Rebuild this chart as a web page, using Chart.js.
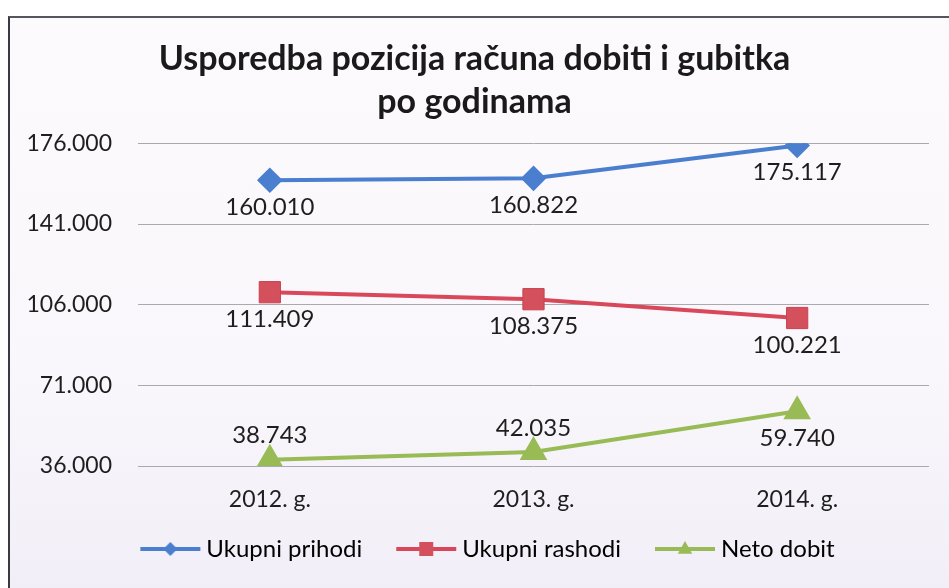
<!DOCTYPE html>
<html>
<head>
<meta charset="utf-8">
<script src="https://cdn.jsdelivr.net/npm/chart.js@4/dist/chart.umd.min.js"></script>
<style>
  html, body { margin: 0; padding: 0; background: #ffffff; }
  #frame {
    position: absolute; left: 8px; top: 16px; width: 960px; height: 600px;
    border-left: 2px solid #3a3a44; border-top: 2px solid #55555e;
    background: linear-gradient(#fcfafc 0%, #f9f7fb 60%, #f0edf7 100%);
  }
  #wrap { position: absolute; left: 0; top: 0; width: 949px; height: 588px; }
</style>
</head>
<body>
<div id="frame"></div>
<div id="wrap"><canvas id="c" width="949" height="588"></canvas></div>
<script>
const categories = ['2012. g.', '2013. g.', '2014. g.'];
const seriesNames = ['Ukupni prihodi', 'Ukupni rashodi', 'Neto dobit'];
const prihodi = [160010, 160822, 175117];
const rashodi = [111409, 108375, 100221];
const netoDobit = [38743, 42035, 59740];
const yTicks = [36000, 71000, 106000, 141000, 176000];
const titleLines = ['Usporedba pozicija računa dobiti i gubitka', 'po godinama'];

const FONT = 'Lato, "Open Sans", sans-serif';
const fmt = v => String(v).replace(/\B(?=(\d{3})+(?!\d))/g, '.');

const colors = {
  blue: '#4a7ecf', blueFill: '#4a7ecf',
  red: '#d9485a', redFill: '#d4505c',
  green: '#98bb56', greenFill: '#98bb56'
};

function legendIcon(color, fill, style, r) {
  const c = document.createElement('canvas');
  c.width = 64; c.height = 24;
  const ctx = c.getContext('2d');
  ctx.strokeStyle = color; ctx.lineWidth = 4;
  ctx.beginPath(); ctx.moveTo(2, 12); ctx.lineTo(62, 12); ctx.stroke();
  ctx.fillStyle = fill;
  ctx.beginPath();
  if (style === 'diamond') {
    ctx.moveTo(32 - r, 12); ctx.lineTo(32, 12 - r); ctx.lineTo(32 + r, 12); ctx.lineTo(32, 12 + r);
  } else if (style === 'square') {
    ctx.rect(32 - r, 12 - r, 2 * r, 2 * r);
  } else {
    ctx.moveTo(32, 12 - r); ctx.lineTo(32 + r * 0.9, 12 + r * 0.6); ctx.lineTo(32 - r * 0.9, 12 + r * 0.6);
  }
  ctx.closePath(); ctx.fill();
  return c;
}

const icons = [
  legendIcon(colors.blue, colors.blueFill, 'diamond', 7),
  legendIcon(colors.red, colors.redFill, 'square', 7),
  legendIcon(colors.green, colors.greenFill, 'triangle', 8)
];

const dataLabels = {
  id: 'dataLabels',
  afterDatasetsDraw(chart) {
    const ctx = chart.ctx;
    ctx.save();
    ctx.font = '24px ' + FONT;
    ctx.fillStyle = '#1e1e1e';
    ctx.textAlign = 'center';
    ctx.textBaseline = 'middle';
    chart.data.datasets.forEach((ds, di) => {
      const meta = chart.getDatasetMeta(di);
      meta.data.forEach((pt, i) => {
        const pos = ds.labelPos[i];
        const dy = pos === 'above' ? -24 : 27;
        ctx.fillText(fmt(ds.data[i]), pt.x, pt.y + dy);
      });
    });
    ctx.restore();
  }
};

// nudge the legend to where the original places it
const legendShift = {
  id: 'legendShift',
  afterLayout(chart) {
    const lg = chart.legend;
    if (!lg) return;
    lg.left += 16; lg.right += 16;
    lg.top -= 17; lg.bottom -= 17;
  }
};

new Chart(document.getElementById('c'), {
  type: 'line',
  data: {
    labels: categories,
    datasets: [
      { label: seriesNames[0], data: prihodi, borderColor: colors.blue, backgroundColor: colors.blueFill,
        pointStyle: 'rectRot', pointRadius: 10, pointBorderColor: colors.blue, pointBackgroundColor: colors.blueFill,
        borderWidth: 4, labelPos: ['below', 'below', 'below'] },
      { label: seriesNames[1], data: rashodi, borderColor: colors.red, backgroundColor: colors.redFill,
        pointStyle: 'rect', pointRadius: 15, pointBorderColor: '#c8404e', pointBorderWidth: 1, pointBackgroundColor: colors.redFill,
        borderWidth: 4, labelPos: ['below', 'below', 'below'] },
      { label: seriesNames[2], data: netoDobit, borderColor: colors.green, backgroundColor: colors.greenFill,
        pointStyle: 'triangle', pointRadius: 12, pointBorderColor: colors.green, pointBackgroundColor: colors.greenFill,
        borderWidth: 4, labelPos: ['above', 'above', 'below'] }
    ]
  },
  options: {
    responsive: false,
    animation: false,
    events: [],
    layout: { padding: { left: 20, right: 20, top: 37, bottom: 0 } },
    plugins: {
      title: {
        display: true, text: titleLines, color: '#1a1a1a',
        font: { family: FONT, size: 34, weight: 'bold', lineHeight: 1.27 },
        padding: { top: 0, bottom: 20 }
      },
      legend: {
        position: 'bottom',
        maxHeight: 77,
        labels: {
          usePointStyle: true, pointStyleWidth: 48, padding: 40,
          color: '#1e1e1e', font: { family: FONT, size: 24 },
          generateLabels(chart) {
            return chart.data.datasets.map((ds, i) => ({
              text: ds.label, pointStyle: icons[i], datasetIndex: i,
              fillStyle: ds.borderColor, strokeStyle: ds.borderColor, lineWidth: 0, hidden: false
            }));
          }
        }
      },
      tooltip: { enabled: false }
    },
    scales: {
      x: {
        offset: true,
        afterFit(scale) { scale.height = 48; },
        grid: { display: false, drawTicks: false },
        border: { display: false },
        ticks: { color: '#1e1e1e', font: { family: FONT, size: 23 }, padding: 20 }
      },
      y: {
        min: yTicks[0], max: yTicks[yTicks.length - 1],
        afterBuildTicks(scale) { scale.ticks = yTicks.map(v => ({ value: v })); },
        afterFit(scale) { scale.width = 118; },
        grid: { color: '#a9a9b0', lineWidth: 1, drawTicks: false },
        border: { display: false },
        ticks: { color: '#1e1e1e', font: { family: FONT, size: 23 }, padding: 26, callback: v => fmt(v) }
      }
    }
  },
  plugins: [dataLabels, legendShift]
});
</script>
</body>
</html>
